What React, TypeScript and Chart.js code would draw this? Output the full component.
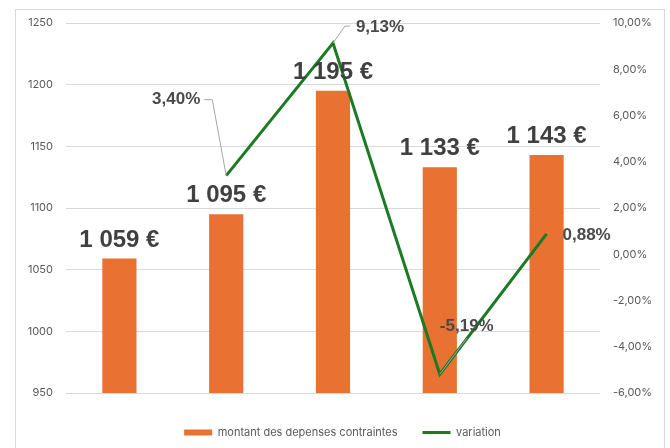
import React, { useEffect, useRef } from "react";
import { Chart, registerables } from "chart.js";

Chart.register(...registerables);

const years = ["2021", "2022", "2023", "2024", "2025"];
const montants = [1059, 1095, 1195, 1133, 1143];
const variations: (number | null)[] = [null, 3.4, 9.13, -5.19, 0.88];
const leftTicks = { min: 950, max: 1250, step: 50 };
const rightTicks = { min: -6, max: 10, step: 2 };

const ORANGE = "#E97132";
const GREEN = "#1C7A24";
const FONT = "Inter, 'Liberation Sans', sans-serif";
const LABEL_FONT = "'Liberation Sans', Arial, sans-serif";

const fmtEuro = (v: number) => String(v).replace(/\B(?=(\d{3})+(?!\d))/g, " ") + " €";
const fmtPct = (v: number) => v.toFixed(2).replace(".", ",") + "%";

// label placement relative to the data point (dx, dy of label centre)
const pctLabelPlacement = [
  null,
  { dx: -50, dy: -76, leader: true },
  { dx: 47, dy: -16, leader: true },
  { dx: 27, dy: -48, leader: true },
  { dx: 40, dy: 1, leader: false },
];

const labelsPlugin = {
  id: "dataLabels",
  afterDatasetsDraw(chart: any) {
    const ctx = chart.ctx;
    ctx.save();
    const barMeta = chart.getDatasetMeta(1);
    ctx.font = `bold 24px ${LABEL_FONT}`;
    ctx.fillStyle = "#404040";
    ctx.textAlign = "center";
    ctx.textBaseline = "alphabetic";
    barMeta.data.forEach((el: any, i: number) => {
      ctx.fillText(fmtEuro(montants[i]), el.x, el.y - 12);
    });
    const lineMeta = chart.getDatasetMeta(0);
    ctx.font = `bold 17px ${LABEL_FONT}`;
    lineMeta.data.forEach((el: any, i: number) => {
      const v = variations[i];
      const p = pctLabelPlacement[i];
      if (v == null || !p) return;
      const text = fmtPct(v);
      const w = ctx.measureText(text).width;
      const cx = el.x + p.dx;
      const cy = el.y + p.dy;
      if (p.leader) {
        ctx.strokeStyle = "#A6A6A6";
        ctx.lineWidth = 1;
        ctx.beginPath();
        if (p.dx < 0) {
          const ex = cx + w / 2 + 12;
          ctx.moveTo(el.x, el.y);
          ctx.lineTo(ex, cy);
          ctx.lineTo(cx + w / 2 + 4, cy);
        } else if (Math.abs(p.dy) > 30) {
          ctx.moveTo(el.x, el.y);
          ctx.lineTo(cx, cy + 12);
        } else {
          const ex = cx - w / 2 - 11;
          ctx.moveTo(el.x, el.y);
          ctx.lineTo(ex, cy - 1);
          ctx.lineTo(cx - w / 2 - 6, cy - 1);
        }
        ctx.stroke();
      }
      ctx.fillStyle = "#4A4A4A";
      ctx.textAlign = "center";
      ctx.textBaseline = "middle";
      ctx.fillText(text, cx, cy);
    });
    ctx.restore();
  },
};

export default function App() {
  const ref = useRef<HTMLCanvasElement | null>(null);
  useEffect(() => {
    if (!ref.current) return;
    const chart = new Chart(ref.current, {
      type: "bar",
      data: {
        labels: years,
        datasets: [
          {
            type: "line",
            label: "variation",
            data: variations as any,
            yAxisID: "y1",
            borderColor: GREEN,
            backgroundColor: GREEN,
            borderWidth: 3,
            pointRadius: 0,
            pointHoverRadius: 0,
            pointStyle: "line",
            tension: 0,
            spanGaps: false,
          } as any,
          {
            type: "bar",
            label: "montant des depenses contraintes",
            data: montants,
            yAxisID: "y",
            backgroundColor: ORANGE,
            borderWidth: 0,
            barPercentage: 0.32,
            categoryPercentage: 1,
            pointStyle: "rect",
          } as any,
        ],
      },
      options: {
        responsive: false,
        animation: false,
        layout: { padding: { left: 15, right: 0, top: 23, bottom: 0 } },
        plugins: {
          tooltip: { enabled: false },
          legend: {
            position: "bottom",
            labels: {
              usePointStyle: true,
              pointStyleWidth: 28,
              boxHeight: 6,
              padding: 25,
              color: "#595959",
              font: { family: FONT, size: 11 },
              sort: (a: any, b: any) => b.datasetIndex - a.datasetIndex,
            },
          },
        },
        scales: {
          x: {
            grid: { display: false, drawTicks: false },
            border: { display: false },
            ticks: { color: "#595959", font: { family: FONT, size: 11 }, padding: 8 },
            afterFit: (s: any) => {
              s.height = 9;
            },
          },
          y: {
            position: "left",
            min: leftTicks.min,
            max: leftTicks.max,
            ticks: {
              stepSize: leftTicks.step,
              color: "#595959",
              font: { family: FONT, size: 11 },
              padding: 13,
              callback: (v: any) => String(v),
            },
            grid: { color: "#D9D9D9", drawTicks: false },
            border: { display: false },
            afterFit: (s: any) => {
              s.width = 51;
            },
          },
          y1: {
            position: "right",
            min: rightTicks.min,
            max: rightTicks.max,
            ticks: {
              stepSize: rightTicks.step,
              color: "#595959",
              font: { family: FONT, size: 11 },
              padding: 13,
              callback: (v: any) => fmtPct(Number(v)),
            },
            grid: { display: false, drawTicks: false },
            border: { display: false },
            afterFit: (s: any) => {
              s.width = 70;
            },
          },
        },
      } as any,
      plugins: [labelsPlugin],
    });
    return () => chart.destroy();
  }, []);

  return (
    <div
      style={{
        position: "fixed",
        left: 0,
        top: 0,
        width: 670,
        height: 448,
        overflow: "hidden",
        background: "#ffffff",
      }}
    >
      <div
        style={{
          position: "absolute",
          left: 15,
          top: 9,
          width: 650,
          height: 480,
          boxSizing: "border-box",
          border: "1px solid #D9D9D9",
        }}
      />
      <canvas
        ref={ref}
        width={670}
        height={448}
        style={{ position: "absolute", left: 0, top: 0, width: 670, height: 448 }}
      />
    </div>
  );
}
